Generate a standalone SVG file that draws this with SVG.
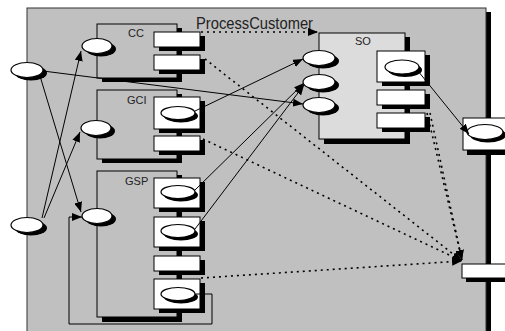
<svg xmlns="http://www.w3.org/2000/svg" width="505" height="331" viewBox="0 0 505 331">
  <style>
    .bg { fill: #c0c0c0; stroke: #333; stroke-width: 1; }
    .sh { fill: #000; }
    .comp { fill: #c0c0c0; stroke: #000; stroke-width: 1; }
    .so { fill: #dcdcdc; stroke: #000; stroke-width: 1; }
    .port { fill: #fff; stroke: #000; stroke-width: 1; }
    .ell { fill: #fff; stroke: #000; stroke-width: 1.2; }
    .lbl { font-family: "Liberation Sans", Arial, sans-serif; font-size: 11px; fill: #222; }
    .title { font-family: "Liberation Sans", Arial, sans-serif; font-size: 16px; fill: #222; }
    .wire { fill: none; stroke: #000; stroke-width: 1; }
    .dot { fill: none; stroke: #000; stroke-width: 1.6; stroke-dasharray: 2 4; }
  </style>
  <defs>
    <marker id="arr" markerUnits="userSpaceOnUse" markerWidth="10" markerHeight="8" refX="10" refY="4" orient="auto">
      <path d="M0,0 L10,4 L0,8 z" fill="#000"/>
    </marker>
  </defs>

  <rect width="505" height="331" fill="#fff"/>

  <!-- enclosing process panel with its drop shadow -->
  <g id="panel">
    <rect class="sh" x="32" y="12" width="459" height="330"/>
    <rect class="bg" x="27" y="8" width="459" height="330"/>
  </g>

  <!-- CC component -->
  <g id="cc">
    <rect class="sh" x="102" y="28" width="80" height="54"/>
    <rect class="comp" x="97" y="24" width="80" height="54"/>
    <text class="lbl" x="128" y="37">CC</text>
    <rect class="sh" x="159" y="36" width="46" height="15"/>
    <rect class="port" x="154" y="32" width="46" height="15"/>
    <rect class="sh" x="159" y="59" width="46" height="15"/>
    <rect class="port" x="154" y="55" width="46" height="15"/>
    <ellipse class="sh" cx="101" cy="49" rx="15" ry="7.5"/>
    <ellipse class="ell" cx="97" cy="46" rx="15" ry="7.5"/>
  </g>

  <!-- GCI component -->
  <g id="gci">
    <rect class="sh" x="102" y="94" width="80" height="69"/>
    <rect class="comp" x="97" y="90" width="80" height="69"/>
    <text class="lbl" x="127" y="104">GCI</text>
    <rect class="sh" x="159" y="101" width="46" height="32"/>
    <rect class="port" x="154" y="97" width="46" height="32"/>
    <ellipse class="sh" cx="181" cy="116" rx="17" ry="6.5"/>
    <ellipse class="ell" cx="178" cy="113" rx="17" ry="6.5"/>
    <rect class="sh" x="159" y="140" width="46" height="15"/>
    <rect class="port" x="154" y="136" width="46" height="15"/>
    <ellipse class="sh" cx="100" cy="131" rx="15" ry="7.5"/>
    <ellipse class="ell" cx="96" cy="128" rx="15" ry="7.5"/>
  </g>

  <!-- GSP component -->
  <g id="gsp">
    <rect class="sh" x="102" y="175" width="80" height="147"/>
    <rect class="comp" x="97" y="171" width="80" height="146"/>
    <text class="lbl" x="125" y="185">GSP</text>
    <rect class="sh" x="159" y="182" width="46" height="30"/>
    <rect class="port" x="154" y="178" width="46" height="30"/>
    <ellipse class="sh" cx="181" cy="195" rx="17" ry="6.5"/>
    <ellipse class="ell" cx="178" cy="192" rx="17" ry="6.5"/>
    <rect class="sh" x="159" y="221" width="46" height="30"/>
    <rect class="port" x="154" y="217" width="46" height="30"/>
    <ellipse class="sh" cx="181" cy="234" rx="17" ry="6.5"/>
    <ellipse class="ell" cx="178" cy="231" rx="17" ry="6.5"/>
    <rect class="sh" x="159" y="260" width="46" height="15"/>
    <rect class="port" x="154" y="256" width="46" height="15"/>
    <rect class="sh" x="159" y="283" width="46" height="30"/>
    <rect class="port" x="154" y="279" width="46" height="30"/>
    <ellipse class="sh" cx="181" cy="297" rx="17" ry="6.5"/>
    <ellipse class="ell" cx="178" cy="294" rx="17" ry="6.5"/>
    <ellipse class="sh" cx="101" cy="219" rx="15" ry="7.5"/>
    <ellipse class="ell" cx="97" cy="216" rx="15" ry="7.5"/>
  </g>

  <!-- SO component -->
  <g id="so">
    <rect class="sh" x="324" y="37" width="86" height="107"/>
    <rect class="so" x="319" y="33" width="86" height="106"/>
    <text class="lbl" x="355" y="45">SO</text>
    <rect class="sh" x="382" y="55" width="48" height="31"/>
    <rect class="port" x="377" y="51" width="48" height="31"/>
    <ellipse class="sh" cx="405" cy="70" rx="17" ry="7"/>
    <ellipse class="ell" cx="402" cy="67" rx="17" ry="7"/>
    <rect class="sh" x="382" y="94" width="48" height="15"/>
    <rect class="port" x="377" y="90" width="48" height="15"/>
    <rect class="sh" x="382" y="117" width="48" height="15"/>
    <rect class="port" x="377" y="113" width="48" height="15"/>
    <ellipse class="sh" cx="323" cy="61" rx="16" ry="7.5"/>
    <ellipse class="ell" cx="319" cy="58" rx="16" ry="7.5"/>
    <ellipse class="sh" cx="323" cy="85" rx="16" ry="7.5"/>
    <ellipse class="ell" cx="319" cy="82" rx="16" ry="7.5"/>
    <ellipse class="sh" cx="323" cy="108" rx="16" ry="7.5"/>
    <ellipse class="ell" cx="319" cy="105" rx="16" ry="7.5"/>
  </g>

  <!-- external ports on the panel's left edge -->
  <g id="in1">
    <ellipse class="sh" cx="31" cy="73" rx="16" ry="7.5"/>
    <ellipse class="ell" cx="27" cy="70" rx="16" ry="7.5"/>
  </g>
  <g id="in2">
    <ellipse class="sh" cx="31" cy="228" rx="16" ry="7.5"/>
    <ellipse class="ell" cx="27" cy="225" rx="16" ry="7.5"/>
  </g>

  <!-- external ports on the panel's right edge -->
  <g id="out1">
    <rect class="sh" x="467" y="122" width="50" height="33"/>
    <rect class="port" x="463" y="118" width="50" height="32"/>
    <ellipse class="sh" cx="488" cy="135" rx="18" ry="7.5"/>
    <ellipse class="ell" cx="485" cy="132" rx="18" ry="7.5"/>
  </g>
  <g id="out2">
    <rect class="sh" x="466" y="268" width="50" height="14"/>
    <rect class="port" x="462" y="264" width="50" height="14"/>
  </g>

  <!-- connectors -->
  <g id="connectors">
    <line class="wire" x1="43" y1="71" x2="303" y2="104" marker-end="url(#arr)"/>
    <line class="wire" x1="40" y1="76" x2="81" y2="212" marker-end="url(#arr)"/>
    <line class="wire" x1="42" y1="218" x2="81" y2="51" marker-end="url(#arr)"/>
    <line class="wire" x1="44" y1="218" x2="80" y2="132" marker-end="url(#arr)"/>
    <line class="wire" x1="195" y1="111" x2="303" y2="59" marker-end="url(#arr)"/>
    <line class="wire" x1="195" y1="190" x2="304" y2="83" marker-end="url(#arr)"/>
    <line class="wire" x1="195" y1="229" x2="304" y2="85" marker-end="url(#arr)"/>
    <line class="wire" x1="418" y1="71" x2="469" y2="134" marker-end="url(#arr)"/>
    <polyline class="wire" points="196,294 212,294 212,324 69,324 69,217 82,217" marker-end="url(#arr)"/>

    <line class="dot" x1="201" y1="32" x2="318" y2="32" marker-end="url(#arr)"/>
    <line class="dot" x1="205" y1="59" x2="462" y2="261" marker-end="url(#arr)"/>
    <line class="dot" x1="203" y1="139" x2="462" y2="261" marker-end="url(#arr)"/>
    <line class="dot" x1="201" y1="278" x2="462" y2="261" marker-end="url(#arr)"/>
    <line class="dot" x1="427" y1="113" x2="462" y2="260" marker-end="url(#arr)"/>
    <line class="dot" x1="430" y1="113" x2="462" y2="260" marker-end="url(#arr)"/>
    <text class="title" x="196" y="29" textLength="117" lengthAdjust="spacingAndGlyphs">ProcessCustomer</text>
  </g>
</svg>
